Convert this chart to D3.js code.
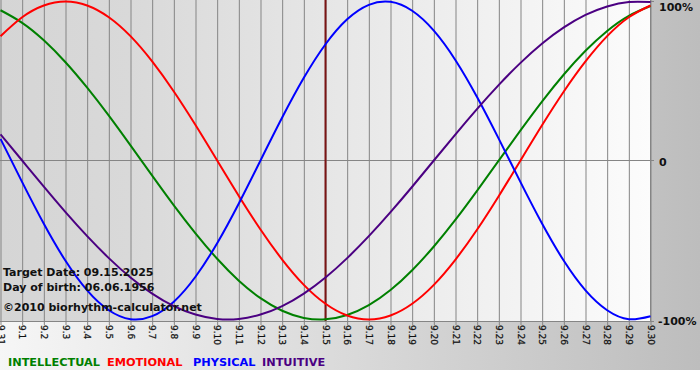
<!DOCTYPE html>
<html>
<head>
<meta charset="utf-8">
<script src="https://cdn.jsdelivr.net/npm/d3@7"></script>
<style>
html,body{margin:0;padding:0;background:#fff;}
svg{display:block;}
</style>
</head>
<body>
<script>
// ---- data ----
const dayLabels = ["9.31","9.1","9.2","9.3","9.4","9.5","9.6","9.7","9.8","9.9","9.10","9.11","9.12","9.13","9.14","9.15","9.16","9.17","9.18","9.19","9.20","9.21","9.22","9.23","9.24","9.25","9.26","9.27","9.28","9.29","9.30"];
const intellectual = [0.945,0.866,0.756,0.618,0.458,0.282,0.095,-0.095,-0.282,-0.458,-0.618,-0.756,-0.866,-0.945,-0.990,-0.999,-0.972,-0.910,-0.815,-0.690,-0.541,-0.372,-0.189,0.000,0.189,0.372,0.541,0.690,0.815,0.910,0.972];
const emotional = [0.782,0.901,0.975,1.000,0.975,0.901,0.782,0.623,0.434,0.223,0.000,-0.223,-0.434,-0.623,-0.782,-0.901,-0.975,-1.000,-0.975,-0.901,-0.782,-0.623,-0.434,-0.223,0.000,0.223,0.434,0.623,0.782,0.901,0.975];
const physical = [0.136,-0.136,-0.398,-0.631,-0.817,-0.942,-0.998,-0.979,-0.888,-0.731,-0.520,-0.270,0.000,0.270,0.520,0.731,0.888,0.979,0.998,0.942,0.817,0.631,0.398,0.136,-0.136,-0.398,-0.631,-0.817,-0.942,-0.998,-0.979];
const intuitive = [0.165,0.000,-0.165,-0.325,-0.476,-0.614,-0.736,-0.837,-0.916,-0.969,-0.997,-0.997,-0.969,-0.916,-0.837,-0.736,-0.614,-0.476,-0.325,-0.165,0.000,0.165,0.325,0.476,0.614,0.736,0.837,0.916,0.969,0.997,0.997];
const seriesNames = ["INTELLECTUAL","EMOTIONAL","PHYSICAL","INTUITIVE"];
const yTickValues = [1,0,-1];
const yTickLabels = ["100%","0","-100%"];
const targetDay = "9.15";
const infoLines = ["Target Date: 09.15.2025","Day of birth: 06.06.1956","\u00A92010 biorhythm-calculator.net"];

// ---- layout / style ----
const W = 700, H = 380;
const colors = ["#008000","#ff0000","#0000ff","#4b0082"];
const seriesData = [intellectual, emotional, physical, intuitive];
const plot = {x0:0, x1:650.5, y0:0, y1:321};

const svg = d3.select("body").append("svg").attr("width", W).attr("height", H);
const defs = svg.append("defs");
const bg = defs.append("linearGradient").attr("id","bg").attr("x1","0").attr("x2","1").attr("y1","0").attr("y2","0");
bg.append("stop").attr("offset","0").attr("stop-color","#f6f6f6");
bg.append("stop").attr("offset","1").attr("stop-color","#bdbdbd");
const pg = defs.append("linearGradient").attr("id","pg").attr("x1","0").attr("x2","1").attr("y1","0").attr("y2","0");
pg.append("stop").attr("offset","0").attr("stop-color","#d5d5d5");
pg.append("stop").attr("offset","0.2").attr("stop-color","#d9d9d9");
pg.append("stop").attr("offset","1").attr("stop-color","#fcfcfc");

svg.append("rect").attr("x",0).attr("y",0).attr("width",W).attr("height",370).attr("fill","url(#bg)");
svg.append("rect").attr("x",plot.x0).attr("y",plot.y0).attr("width",plot.x1-plot.x0).attr("height",plot.y1-plot.y0).attr("fill","url(#pg)");

const x = d3.scalePoint().domain(dayLabels).range([0.5, 650.5]);
const y = d3.scaleLinear().domain([-1,1]).range([319.5, 1.5]);

// vertical grid + ticks
const xAxis = d3.axisBottom(x).tickSize(325).tickFormat("");
const gx = svg.append("g").call(xAxis);
gx.select(".domain").remove();
gx.selectAll(".tick line").attr("stroke","#858585").attr("stroke-width",1);

// horizontal lines
svg.append("line").attr("x1",0).attr("x2",650.5).attr("y1",160.5).attr("y2",160.5).attr("stroke","#858585");
svg.append("line").attr("x1",0).attr("x2",651).attr("y1",321.5).attr("y2",321.5).attr("stroke","#858585");
svg.append("line").attr("x1",650.5).attr("x2",650.5).attr("y1",0).attr("y2",322).attr("stroke","#858585");
// right small ticks
svg.selectAll("line.rt").data(yTickValues).enter().append("line")
  .attr("x1",650).attr("x2",654)
  .attr("y1",d=>d===0?160.5:(d>0?1.5:321.5)).attr("y2",d=>d===0?160.5:(d>0?1.5:321.5))
  .attr("stroke","#858585");

// day labels
svg.append("g").selectAll("text").data(dayLabels).enter().append("text")
  .attr("transform",d=>`translate(${x(d)},325) rotate(90)`)
  .attr("dy","0.33em")
  .attr("font-family","DejaVu Sans")
  .attr("font-size","9px")
  .attr("fill","#111")
  .attr("stroke","#111").attr("stroke-width",0.25)
  .text(d=>d);

// target date line
svg.append("line").attr("x1",x(targetDay)).attr("x2",x(targetDay)).attr("y1",0).attr("y2",321)
  .attr("stroke","#7a1414").attr("stroke-width",2);

// curves
const line = d3.line().x((d,i)=>x(dayLabels[i])).y(d=>y(d)).curve(d3.curveNatural);
svg.append("g").selectAll("path").data(seriesData).enter().append("path")
  .attr("d",line).attr("fill","none")
  .attr("stroke",(d,i)=>colors[i]).attr("stroke-width",2);

// right labels
svg.append("g").selectAll("text").data(yTickLabels).enter().append("text")
  .attr("x",(d,i)=> i===2 ? 658 : 659)
  .attr("y",(d,i)=>Math.min(Math.max(y(yTickValues[i])+2, 7), 322))
  .attr("dy","0.36em")
  .attr("font-family","DejaVu Sans").attr("font-weight","bold").attr("font-size","11px")
  .attr("fill","#111")
  .text(d=>d);

// info text
const infoY = [276, 291, 311];
svg.append("g").selectAll("text").data(infoLines).enter().append("text")
  .attr("x",3).attr("y",(d,i)=>infoY[i])
  .attr("font-family","DejaVu Sans").attr("font-weight","bold").attr("font-size","11px")
  .attr("fill","#111")
  .text(d=>d);

// legend
const legX = [8, 107, 193, 262];
svg.append("g").selectAll("text").data(seriesNames).enter().append("text")
  .attr("x",(d,i)=>legX[i]).attr("y",366)
  .attr("font-family","DejaVu Sans").attr("font-weight","bold").attr("font-size","11.3px")
  .attr("fill",(d,i)=>colors[i])
  .text(d=>d);
</script>
</body>
</html>
